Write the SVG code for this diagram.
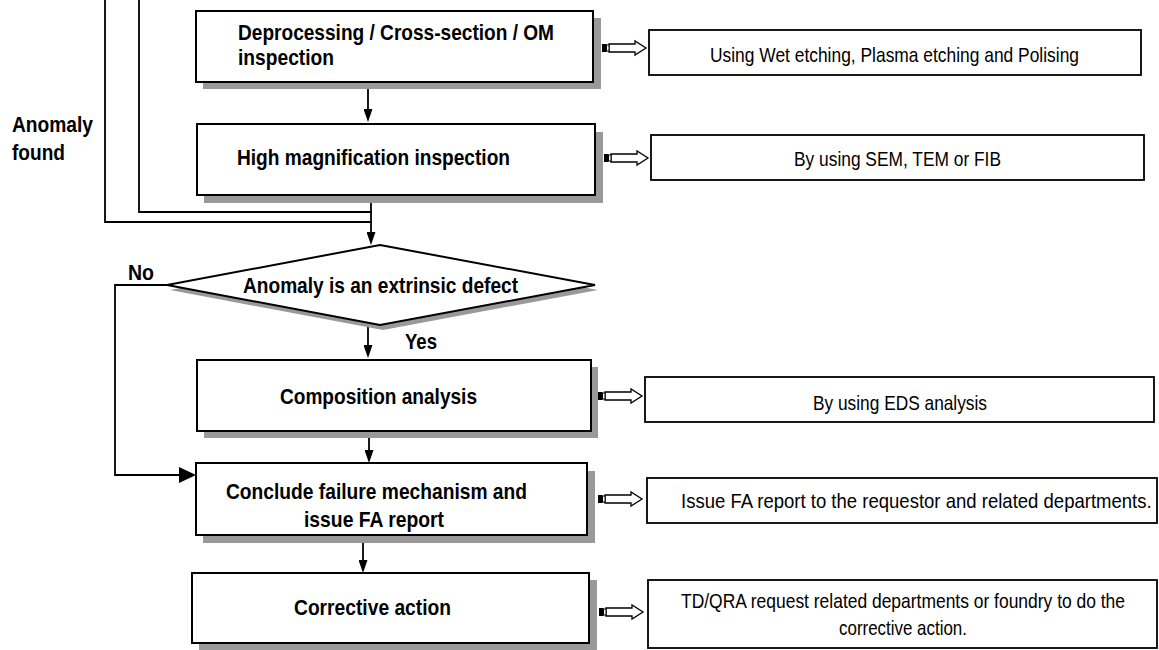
<svg xmlns="http://www.w3.org/2000/svg" xmlns:xlink="http://www.w3.org/1999/xlink" width="1159" height="650" viewBox="0 0 1159 650">
<style>
.box{fill:#fff;stroke:#000;stroke-width:2}
.sh{fill:#999}
.rbox{fill:#fff;stroke:#000;stroke-width:1.8}
.ln{fill:none;stroke:#000;stroke-width:1.8}
.t{font-family:"Liberation Sans",Arial,sans-serif;font-weight:bold;font-size:22px;fill:#000}
.r{font-family:"Liberation Sans",Arial,sans-serif;font-weight:normal;font-size:21px;fill:#000}
</style>
<defs>
<marker id="ah" viewBox="0 0 13 9" refX="0.5" refY="4.5" markerWidth="13" markerHeight="9" markerUnits="userSpaceOnUse" orient="auto"><path d="M0,0 L13,4.5 L0,9 Z" fill="#000"/></marker>
<marker id="ahb" viewBox="0 0 17 16" refX="0.5" refY="8" markerWidth="17" markerHeight="16" markerUnits="userSpaceOnUse" orient="auto"><path d="M0,0 L17,8 L0,16 Z" fill="#000"/></marker>
<g id="harrow">
<polygon points="7,-4 33,-4 33,-7 44,0 33,7 33,4 7,4" fill="#fff" stroke="#000" stroke-width="1.3"/>
<rect x="0" y="-4" width="4.5" height="8" fill="#000"/>
<rect x="4.5" y="-3" width="2.5" height="6" fill="#fff" stroke="#000" stroke-width="1"/>
</g>
</defs>

<g id="connectors">
<polyline class="ln" points="105,0 105,222 372,222"/>
<polyline class="ln" points="139,0 139,212 372,212"/>
<line class="ln" x1="371" y1="203" x2="371" y2="232.5" marker-end="url(#ah)"/>
<line class="ln" x1="368" y1="89" x2="368" y2="109.5" marker-end="url(#ah)"/>
<line class="ln" x1="368" y1="325" x2="368" y2="345.5" marker-end="url(#ah)"/>
<line class="ln" x1="369" y1="438" x2="369" y2="450.5" marker-end="url(#ah)"/>
<line class="ln" x1="363" y1="543" x2="363" y2="560.5" marker-end="url(#ah)"/>
<polyline class="ln" points="167,285 115,285 115,475 179.5,475" marker-end="url(#ahb)"/>
<use xlink:href="#harrow" x="602" y="48"/>
<use xlink:href="#harrow" x="604" y="158"/>
<use xlink:href="#harrow" x="598" y="396"/>
<use xlink:href="#harrow" x="598" y="499"/>
<use xlink:href="#harrow" x="599" y="612"/>
</g>

<g id="label-anomaly-found">
<text class="t" x="12" y="132" textLength="81" lengthAdjust="spacingAndGlyphs">Anomaly</text>
<text class="t" x="12" y="160" textLength="53" lengthAdjust="spacingAndGlyphs">found</text>
</g>
<g id="label-no"><text class="t" x="128" y="280" textLength="26" lengthAdjust="spacingAndGlyphs">No</text></g>
<g id="label-yes"><text class="t" x="405" y="349" textLength="32" lengthAdjust="spacingAndGlyphs">Yes</text></g>

<g id="node-deprocessing">
<rect class="sh" x="203" y="18" width="398" height="71"/>
<rect class="box" x="196" y="11" width="397" height="71"/>
<text class="t" x="238" y="40" textLength="316" lengthAdjust="spacingAndGlyphs">Deprocessing / Cross-section / OM</text>
<text class="t" x="238" y="65" textLength="96" lengthAdjust="spacingAndGlyphs">inspection</text>
</g>

<g id="node-highmag">
<rect class="sh" x="204" y="132" width="399" height="71"/>
<rect class="box" x="197" y="124" width="398" height="71"/>
<text class="t" x="237" y="165" textLength="273" lengthAdjust="spacingAndGlyphs">High magnification inspection</text>
</g>

<g id="node-decision">
<polygon class="sh" points="383,250 598,290 383,330 170,290"/>
<polygon class="box" points="380,245 595,285 380,325 167,285"/>
<text class="t" x="243" y="293" textLength="275" lengthAdjust="spacingAndGlyphs">Anomaly is an extrinsic defect</text>
</g>

<g id="node-composition">
<rect class="sh" x="204" y="367" width="394" height="71"/>
<rect class="box" x="197" y="360" width="394" height="71"/>
<text class="t" x="280" y="404" textLength="197" lengthAdjust="spacingAndGlyphs">Composition analysis</text>
</g>

<g id="node-conclude">
<rect class="sh" x="203" y="471" width="392" height="72"/>
<rect class="box" x="196" y="463" width="391" height="72"/>
<text class="t" x="226" y="499" textLength="301" lengthAdjust="spacingAndGlyphs">Conclude failure mechanism and</text>
<text class="t" x="304" y="527" textLength="140" lengthAdjust="spacingAndGlyphs">issue FA report</text>
</g>

<g id="node-corrective">
<rect class="sh" x="199" y="580" width="398" height="70"/>
<rect class="box" x="192" y="573" width="397" height="70"/>
<text class="t" x="294" y="615" textLength="157" lengthAdjust="spacingAndGlyphs">Corrective action</text>
</g>

<g id="note-etching">
<rect class="rbox" x="649" y="30" width="492" height="45"/>
<text class="r" x="710" y="62" textLength="369" lengthAdjust="spacingAndGlyphs">Using Wet etching, Plasma etching and Polising</text>
</g>
<g id="note-sem">
<rect class="rbox" x="651" y="135" width="493" height="45"/>
<text class="r" x="794" y="166" textLength="207" lengthAdjust="spacingAndGlyphs">By using SEM, TEM or FIB</text>
</g>
<g id="note-eds">
<rect class="rbox" x="645" y="377" width="509" height="45"/>
<text class="r" x="813" y="410" textLength="174" lengthAdjust="spacingAndGlyphs">By using EDS analysis</text>
</g>
<g id="note-report">
<rect class="rbox" x="647" y="478" width="510" height="45"/>
<text class="r" transform="translate(681,508) scale(0.87,1)" x="0" y="0" textLength="541" lengthAdjust="spacingAndGlyphs">Issue FA report to the requestor and related departments.</text>
</g>
<g id="note-action">
<rect class="rbox" x="648" y="580" width="509" height="68"/>
<text class="r" transform="translate(681,608) scale(0.82,1)" x="0" y="0" textLength="541.5" lengthAdjust="spacingAndGlyphs">TD/QRA request related departments or foundry to do the</text>
<text class="r" x="839" y="635" textLength="128" lengthAdjust="spacingAndGlyphs">corrective action.</text>
</g>
</svg>
